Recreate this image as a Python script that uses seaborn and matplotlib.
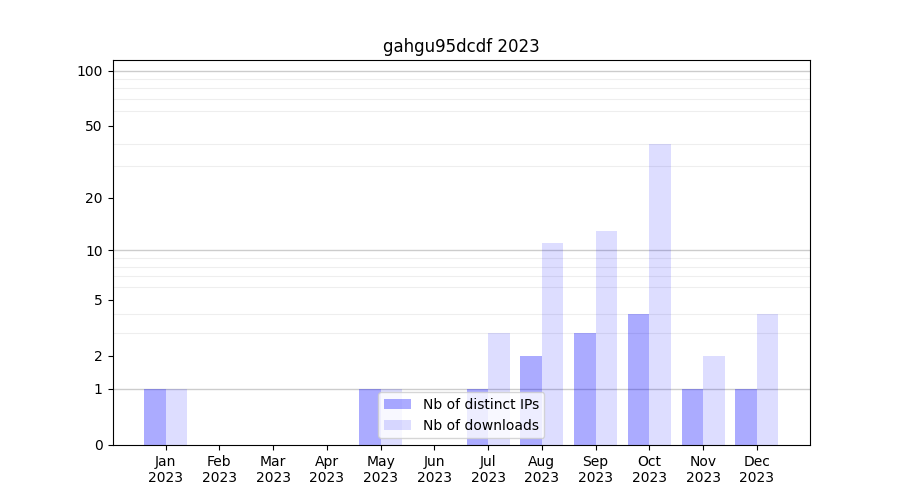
import numpy as np
import pandas as pd
import seaborn as sns
import matplotlib
matplotlib.use("Agg")
import matplotlib.pyplot as plt
from matplotlib.ticker import FixedLocator, NullFormatter

# === data ===
months = ["Jan", "Feb", "Mar", "Apr", "May", "Jun",
          "Jul", "Aug", "Sep", "Oct", "Nov", "Dec"]
year = "2023"
distinct_ips = [1, 0, 0, 0, 1, 0, 1, 2, 3, 4, 1, 1]
downloads = [1, 0, 0, 0, 1, 0, 3, 11, 13, 40, 2, 4]
series_names = ["Nb of distinct IPs", "Nb of downloads"]
y_ticks = [0, 1, 2, 5, 10, 20, 50, 100]
y_minor = [2, 3, 4, 5, 6, 7, 8, 9, 20, 30, 40, 50, 60, 70, 80, 90]
y_major_grid = [1, 10, 100]

labels = [f"{m}\n{year}" for m in months]
df = pd.DataFrame({
    "month": labels * 2,
    "series": [series_names[0]] * 12 + [series_names[1]] * 12,
    "value": distinct_ips + downloads,
})

fig, ax = plt.subplots(figsize=(9, 5), dpi=100)

sns.barplot(data=df, x="month", y="value", hue="series", order=labels,
            palette=["blue", "blue"], saturation=1, legend=False, ax=ax,
            zorder=2)

# lighter colours for each series
for cont, a in zip(ax.containers, [0.33, 0.135]):
    for p in cont:
        p.set_alpha(a)
        p.set_edgecolor("none")

# log(1+x) axis
ax.set_yscale("function", functions=(lambda v: np.log10(np.maximum(v, 0) + 1),
                                     lambda v: 10 ** v - 1))
ax.set_ylim(0, 114)
ax.set_xlim(-0.99, 11.99)
ax.yaxis.set_major_locator(FixedLocator(y_ticks))
ax.set_yticklabels([str(t) for t in y_ticks])
ax.yaxis.set_minor_locator(FixedLocator(y_minor))
ax.yaxis.set_minor_formatter(NullFormatter())
ax.tick_params(axis="y", which="minor", length=0)
ax.yaxis.grid(True, which="minor", color="#eeeeee", linewidth=0.8, zorder=0)
ax.yaxis.grid(False, which="major")
for g in y_major_grid:
    ax.axhline(g, color="#cccccc", linewidth=1, zorder=1)
ax.set_axisbelow(True)

ax.set_xlabel("")
ax.set_ylabel("")
ax.set_title(f"gahgu95dcdf {year}")
ax.legend(ax.containers, series_names, loc="lower center")

plt.savefig("out.png", dpi=100)
plt.close()
